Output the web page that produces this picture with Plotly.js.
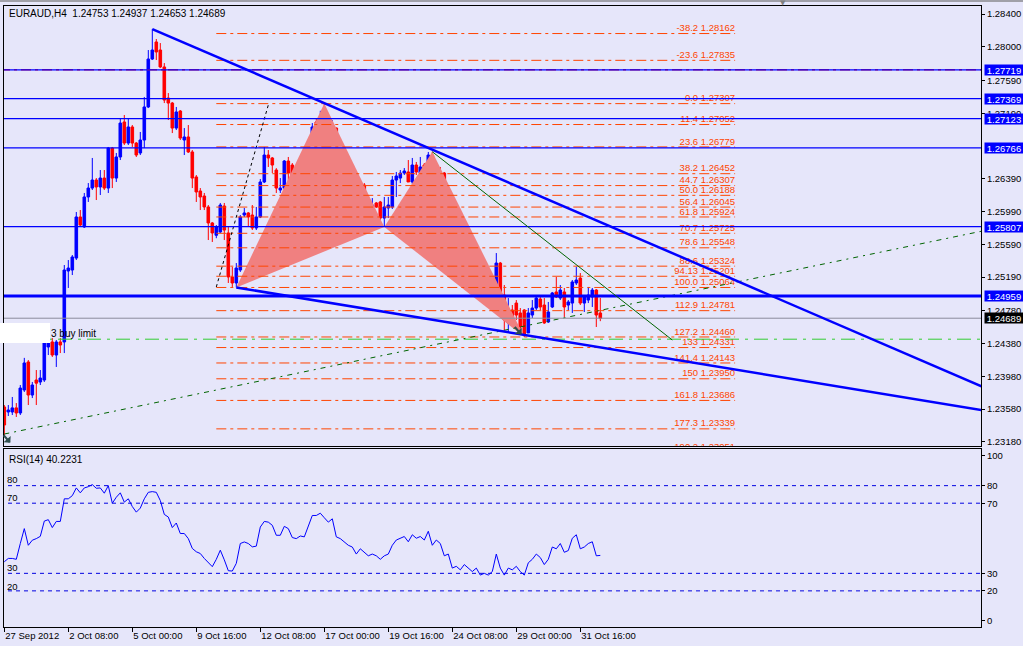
<!DOCTYPE html>
<html><head><meta charset="utf-8">
<script src="https://cdn.plot.ly/plotly-3.0.1.min.js"></script>
<style>html,body{margin:0;padding:0;background:#E6E6FA;overflow:hidden}#chart{width:1023px;height:646px}</style>
</head><body><div id="chart"></div>
<script>
// ---------------- data ----------------
const headerText = 'EURAUD,H4  1.24753 1.24937 1.24653 1.24689';
const rsiTitle = 'RSI(14) 40.2231';

const openP = [1.23606,1.23545,1.23545,1.23595,1.23533,1.23813,1.24155,1.23752,1.23935,1.23911,
1.23935,1.24338,1.24399,1.24240,1.24399,1.24399,1.25265,1.25277,1.25423,1.25924,
1.25802,1.26168,1.26277,1.26375,1.26290,1.26399,1.26277,1.26765,1.26399,1.26656,
1.27083,1.26826,1.27022,1.26826,1.26705,1.26863,1.27266,1.27851,1.28059,1.27961,
1.27754,1.27375,1.27314,1.27009,1.27217,1.26863,1.26900,1.26717,1.26412,1.26241,
1.26180,1.26046,1.25851,1.25701,1.25741,1.26058,1.25729,1.25192,1.25119,1.25277,
1.25948,1.25973,1.25948,1.25790,1.25924,1.26351,1.26680,1.26644,1.26497,1.26253,
1.26277,1.26607,1.26558,1.26290,1.26253,1.26290,1.26314,1.26656,1.27083,1.27070,
1.27083,1.27083,1.26900,1.27009,1.26680,1.26558,1.26412,1.26326,1.26277,1.26009,
1.26314,1.26131,1.26009,1.26095,1.26107,1.25911,1.26034,1.26046,1.26375,1.26399,
1.26460,1.26473,1.26351,1.26558,1.26460,1.26558,1.26460,1.26680,1.26338,1.26436,
1.26460,1.25985,1.26009,1.25338,1.25399,1.25192,1.25301,1.25253,1.25094,1.25192,
1.24911,1.25033,1.24935,1.25058,1.25362,1.24972,1.24631,1.24789,1.24874,1.24753,
1.24789,1.24509,1.24728,1.24813,1.24923,1.24850,1.24643,1.24826,1.25009,1.24935,
1.25009,1.24850,1.24874,1.25119,1.25179,1.24874,1.24911,1.24948,1.25033,1.24753];

const highP = [1.23630,1.23630,1.23728,1.23654,1.23874,1.24205,1.24179,1.23911,1.24057,1.24057,
1.24484,1.24447,1.24447,1.24423,1.24447,1.25338,1.25399,1.25460,1.25985,1.26009,
1.26217,1.26338,1.26644,1.26399,1.26497,1.26497,1.26778,1.26778,1.26705,1.27131,
1.27168,1.27131,1.27046,1.26839,1.26961,1.27388,1.27961,1.28217,1.28095,1.28046,
1.27802,1.27436,1.27327,1.27266,1.27229,1.27009,1.27046,1.26741,1.26436,1.26277,
1.26217,1.26070,1.25863,1.25826,1.26095,1.26095,1.25802,1.25314,1.25362,1.25948,
1.26034,1.25985,1.26070,1.26046,1.26387,1.26778,1.26741,1.26656,1.26520,1.26399,
1.26619,1.26656,1.26582,1.26399,1.26480,1.26399,1.26660,1.27070,1.27131,1.27220,
1.27307,1.27107,1.27107,1.27015,1.26705,1.26582,1.26473,1.26338,1.26290,1.26320,
1.26338,1.26168,1.26155,1.26107,1.26120,1.26168,1.26168,1.26424,1.26473,1.26497,
1.26521,1.26619,1.26644,1.26595,1.26656,1.26582,1.26717,1.26720,1.26534,1.26534,
1.26473,1.26070,1.26046,1.25436,1.25460,1.25460,1.25326,1.25362,1.25277,1.25216,
1.25240,1.25082,1.25082,1.25484,1.25375,1.25094,1.24935,1.24850,1.24911,1.24813,
1.24800,1.24813,1.24911,1.24948,1.24948,1.24935,1.24887,1.25009,1.25192,1.25094,
1.25058,1.24911,1.25155,1.25314,1.25240,1.24972,1.25070,1.25058,1.25045,1.24937];

const lowP = [1.23264,1.23496,1.23508,1.23484,1.23508,1.23789,1.23630,1.23715,1.23630,1.23874,
1.23911,1.24240,1.24216,1.24094,1.24264,1.24264,1.25058,1.25216,1.25399,1.25802,
1.25790,1.26107,1.26253,1.26131,1.26192,1.26253,1.26217,1.26277,1.26351,1.26619,
1.26802,1.26802,1.26778,1.26656,1.26680,1.26765,1.27253,1.27839,1.27839,1.27741,
1.27314,1.27107,1.26948,1.26985,1.26863,1.26680,1.26705,1.26277,1.26107,1.26009,
1.26009,1.25643,1.25619,1.25665,1.25729,1.25643,1.25119,1.25070,1.25064,1.25253,
1.25924,1.25802,1.25765,1.25765,1.25911,1.26338,1.26534,1.26460,1.26217,1.26217,
1.26155,1.26217,1.26168,1.26217,1.26229,1.26192,1.26290,1.26644,1.26948,1.27060,
1.26887,1.26887,1.26839,1.26473,1.26460,1.26277,1.26253,1.26168,1.25985,1.25985,
1.26095,1.26009,1.25911,1.26034,1.25887,1.25802,1.25911,1.26021,1.26168,1.26338,
1.26436,1.26351,1.26326,1.26436,1.26436,1.26412,1.26436,1.26290,1.26314,1.26314,
1.25924,1.25863,1.25301,1.25155,1.25179,1.25058,1.25155,1.25033,1.25058,1.24911,
1.24887,1.24911,1.24911,1.25033,1.24911,1.24545,1.24521,1.24643,1.24667,1.24545,
1.24460,1.24509,1.24692,1.24789,1.24789,1.24620,1.24631,1.24813,1.24935,1.24911,
1.24704,1.24789,1.24753,1.25094,1.24850,1.24765,1.24874,1.24826,1.24582,1.24653];

const closeP = [1.23386,1.23569,1.23595,1.23533,1.23837,1.24143,1.23752,1.23874,1.23897,1.23959,
1.24447,1.24387,1.24240,1.24399,1.24362,1.25277,1.25301,1.25436,1.25924,1.25826,
1.26168,1.26277,1.26375,1.26290,1.26399,1.26277,1.26765,1.26399,1.26656,1.27070,
1.26826,1.27022,1.26826,1.26680,1.26863,1.27266,1.27851,1.27961,1.27937,1.27754,
1.27351,1.27314,1.27009,1.27205,1.26887,1.26900,1.26717,1.26399,1.26229,1.26168,
1.26046,1.25851,1.25729,1.25802,1.26070,1.25765,1.25192,1.25119,1.25301,1.25924,
1.25973,1.25924,1.25790,1.25924,1.26351,1.26680,1.26644,1.26558,1.26277,1.26277,
1.26607,1.26460,1.26277,1.26253,1.26473,1.26338,1.26656,1.27022,1.27009,1.27119,
1.26985,1.26900,1.27009,1.26582,1.26521,1.26399,1.26314,1.26253,1.26009,1.26314,
1.26131,1.26034,1.26070,1.26046,1.25911,1.26046,1.26070,1.26375,1.26424,1.26460,
1.26485,1.26351,1.26558,1.26473,1.26534,1.26436,1.26680,1.26338,1.26473,1.26375,
1.25985,1.26034,1.25338,1.25399,1.25216,1.25314,1.25192,1.25070,1.25216,1.24935,
1.24997,1.24935,1.25070,1.25362,1.24948,1.24667,1.24789,1.24692,1.24728,1.24582,
1.24484,1.24753,1.24813,1.24935,1.24826,1.24631,1.24765,1.24997,1.24948,1.25033,
1.24826,1.24887,1.25131,1.25155,1.24874,1.24948,1.24972,1.25033,1.24728,1.24689];

const rsiValues = [36.6,38.5,38.5,38.0,47.0,55.5,46.0,48.9,49.8,51.1,
59.8,60.6,56.1,59.6,59.6,72.5,72.5,74.3,78.7,75.9,
78.7,79.4,80.6,78.5,78.7,75.7,80.0,70.0,73.4,75.9,
70.6,72.5,68.1,64.9,67.2,72.5,76.2,76.6,76.2,71.5,
63.6,62.1,56.1,58.7,52.7,52.7,49.8,44.2,42.3,41.3,
38.5,36.0,33.8,38.0,43.2,37.7,31.5,31.3,35.7,47.0,
47.9,47.0,45.1,45.5,56.4,59.6,59.2,57.4,51.7,51.7,
56.8,55.5,50.4,49.8,51.3,50.8,57.4,63.0,63.0,64.3,
61.7,59.2,61.1,50.8,49.8,48,46,45,41,44,
42,40,41,40,38,40,41,46,49,50,
51,48,52,50,51,49,54,46,49,47,
40,41,33,34,32,35,33,31,33,29,
30,29,31,41,33,29,33,32,34,31,
29,36,38,41,39,35,38,45,44,47,
42,43,50,52,44,45,47,48,40,40.2231];

const timeTickBars = [0,16,32,48,64,80,96,112,128,144];
const timeTickLabels = ['27 Sep 2012','2 Oct 08:00','5 Oct 00:00','9 Oct 16:00','12 Oct 08:00','17 Oct 00:00','19 Oct 16:00','24 Oct 08:00','29 Oct 00:00','31 Oct 16:00'];
const priceTicks = [1.28400,1.28000,1.27590,1.27190,1.26390,1.25990,1.25590,1.25190,1.24780,1.24380,1.23980,1.23580,1.23180];
const rsiLevels = [80,70,30,20];

const fibLevels = ['-38.2','-23.6','0.0','11.4','23.6','38.2','44.7','50.0','56.4','61.8','70.7','78.6','88.6','94.13','100.0','112.9','127.2','133','141.4','150','161.8','177.3','190.2'];
const fibPrices = [1.28162,1.27835,1.27307,1.27052,1.26779,1.26452,1.26307,1.26188,1.26045,1.25924,1.25725,1.25548,1.25324,1.25201,1.25064,1.24781,1.24460,1.24331,1.24143,1.23950,1.23686,1.23339,1.23051];
const fibBars = [53, 182.7];

const hLinePrices = [1.27719,1.27369,1.27123,1.26766,1.25807,1.24959];
const redLinePrice = 1.27719;
const buyLimitPrice = 1.24433;
const buyLimitText = '3 buy limit';

// Gartley XABCD points
const patternBars = [58, 80, 95, 107, 130];
const patternPrices = [1.25064, 1.27307, 1.25802, 1.26720, 1.24460];

// trendline anchors [bar, bar], [price, price]
const upperTLBars = [37, 107], upperTLPrices = [1.28217, 1.26745];
const lowerTLBars = [58, 130], lowerTLPrices = [1.25064, 1.24486];
const greenTLBars = [0, 140], greenTLPrices = [1.23276, 1.24694];
const thinTLBars = [107, 167], thinTLPrices = [1.26720, 1.24423];
const dotTLBars = [53, 66], dotTLPrices = [1.25070, 1.27290];

// trade arrows [bar, price]
const arrowBars = [1.5, 129.3], arrowPrices = [1.23170, 1.24490];

// ---------------- drawing ----------------
const FONT = 'Liberation Sans, Arial, sans-serif';
const FS = 9.5;
const BG = '#E6E6FA';
const X0 = -0.075, X1 = 244.175;
const bars = openP.map((_, i) => i);
const px2x = x => (x - 4) / 977;
const px2y = y => (627 - y) / 621;

function ray(bx, py, xEnd) {
  const s = (py[1] - py[0]) / (bx[1] - bx[0]);
  return {x: [bx[0], xEnd], y: [py[0], py[0] + s * (xEnd - bx[0])]};
}
function hline(p, color, width, dash, xa, ya, xs) {
  return {type: 'scatter', mode: 'lines', x: xs || [X0 - 1, X1 + 1], y: [p, p],
    line: {color: color, width: width, dash: dash || 'solid'}, hoverinfo: 'skip',
    xaxis: xa || 'x', yaxis: ya || 'y', showlegend: false};
}

const traces = [];
// pattern triangles
[[0,1,2],[2,3,4]].forEach(t => {
  traces.push({type: 'scatter', mode: 'lines', fill: 'toself', fillcolor: '#F08080',
    x: t.map(k => patternBars[k]), y: t.map(k => patternPrices[k]),
    line: {width: 0, color: '#F08080'}, hoverinfo: 'skip', showlegend: false});
});
// fib levels
const FIBDASH = '10px,4px,3px,4px';
fibPrices.forEach(p => traces.push(hline(p, '#FF4500', 1, FIBDASH, 'x', 'y', fibBars)));
traces.push(hline(redLinePrice, '#FF2020', 1.5, FIBDASH));
// fib labels as clipped text
traces.push({type: 'scatter', mode: 'text', x: fibPrices.map(() => fibBars[1]), y: fibPrices,
  text: fibPrices.map((p, i) => fibLevels[i] + ' ' + p.toFixed(5)), textposition: 'top left',
  textfont: {family: 'Liberation Sans, Arial, sans-serif', size: 9.5, color: '#FF4500'},
  cliponaxis: true, hoverinfo: 'skip', showlegend: false});
// buy limit line
traces.push(hline(buyLimitPrice, '#32CD32', 1, '14px,6px,3px,6px'));
// green dashed trendline
const g = ray(greenTLBars, greenTLPrices, X1 + 1);
traces.push({type: 'scatter', mode: 'lines', x: g.x, y: g.y, line: {color: '#006400', width: 1, dash: '5px,5px,2px,5px'}, hoverinfo: 'skip', showlegend: false});
// black dotted line
traces.push({type: 'scatter', mode: 'lines', x: dotTLBars, y: dotTLPrices, line: {color: '#000000', width: 1, dash: '3px,3px'}, hoverinfo: 'skip', showlegend: false});
// current price line
traces.push(hline(closeP[closeP.length - 1], '#8C8C9C', 1));
// candles
traces.push({type: 'candlestick', x: bars, open: openP, high: highP, low: lowP, close: closeP,
  increasing: {line: {color: '#0000FF', width: 1}, fillcolor: '#0000FF'},
  decreasing: {line: {color: '#FF0000', width: 1}, fillcolor: '#FF0000'},
  whiskerwidth: 0, hoverinfo: 'skip', showlegend: false, xaxis: 'x', yaxis: 'y'});
// horizontal blue lines
hLinePrices.forEach((p, i) => traces.push(hline(p, '#0000FF', i === hLinePrices.length - 1 ? 3 : 1.2)));
// trendlines
const u = ray(upperTLBars, upperTLPrices, X1 + 1);
traces.push({type: 'scatter', mode: 'lines', x: u.x, y: u.y, line: {color: '#0000FF', width: 2.5}, hoverinfo: 'skip', showlegend: false});
const l = ray(lowerTLBars, lowerTLPrices, X1 + 1);
traces.push({type: 'scatter', mode: 'lines', x: l.x, y: l.y, line: {color: '#0000FF', width: 2.5}, hoverinfo: 'skip', showlegend: false});
traces.push({type: 'scatter', mode: 'lines', x: thinTLBars, y: thinTLPrices, line: {color: '#006400', width: 1}, hoverinfo: 'skip', showlegend: false});

// RSI
rsiLevels.forEach(v => traces.push(hline(v, '#0000E0', 1, '4px,4px', 'x2', 'y2')));
traces.push({type: 'scatter', mode: 'lines', x: bars, y: rsiValues, line: {color: '#0000FF', width: 1},
  xaxis: 'x2', yaxis: 'y2', hoverinfo: 'skip', showlegend: false});

const annotations = [];
const txt = (text, x, y, opts) => Object.assign({text: text, x: x, y: y, xref: 'paper', yref: 'paper',
  showarrow: false, xanchor: 'left', yanchor: 'middle', font: {family: FONT, size: FS, color: '#000'}}, opts || {});
annotations.push(txt(headerText, px2x(7), px2y(14), {font: {family: FONT, size: 10, color: '#000'}}));
annotations.push(txt(rsiTitle, px2x(7), px2y(459), {font: {family: FONT, size: 10, color: '#000'}}));
[['80', 479], ['70', 497], ['30', 567], ['20', 586]].forEach(a => annotations.push(txt(a[0], px2x(5), px2y(a[1]))));
annotations.push(txt(buyLimitText, px2x(49), px2y(333), {font: {family: FONT, size: 10, color: '#000'}}));
annotations.push(txt('\u25BC', px2x(783), px2y(3), {xanchor: 'center', font: {family: 'DejaVu Sans', size: 7, color: '#808080'}}));
// trade arrows
arrowBars.forEach((b, i) => annotations.push({x: b, y: arrowPrices[i], xref: 'x', yref: 'y', text: '', showarrow: true,
  arrowhead: 1, arrowsize: 0.8, arrowwidth: 2, arrowcolor: '#2F4F4F', ax: -8, ay: -9}));
// price boxes on right axis
const box = (p, bg) => ({text: p.toFixed(5), x: 1, y: p, xref: 'paper', yref: 'y', xanchor: 'left', yanchor: 'middle',
  xshift: 3, showarrow: false, bgcolor: bg, borderpad: 0, width: 38, height: 10, align: 'center',
  font: {family: FONT, size: FS, color: '#FFFFFF'}});
hLinePrices.forEach(p => annotations.push(box(p, '#0000FF')));
annotations.push(box(closeP[closeP.length - 1], '#000000'));

const shapes = [
  {type: 'rect', xref: 'paper', yref: 'paper', x0: px2x(-2), x1: px2x(50), y0: px2y(343), y1: px2y(323), fillcolor: '#FFFFFF', line: {width: 0}, layer: 'above'},
  {type: 'rect', xref: 'paper', yref: 'paper', x0: px2x(-5), x1: px2x(1030), y0: px2y(2), y1: px2y(-2), fillcolor: '#A0A0A8', line: {width: 0}}
];

const axFont = {family: FONT, size: FS, color: '#000'};
const layout = {
  width: 1023, height: 646,
  margin: {l: 4, r: 42, t: 6, b: 19},
  paper_bgcolor: BG, plot_bgcolor: BG,
  showlegend: false,
  boxgap: 0.35, boxgroupgap: 0,
  xaxis: {domain: [0, 1], range: [X0, X1], anchor: 'y', showticklabels: false, ticks: '', showgrid: false, zeroline: false,
    showline: true, mirror: true, linecolor: '#000', linewidth: 1, rangeslider: {visible: false}, fixedrange: true},
  xaxis2: {domain: [0, 1], range: [X0, X1], anchor: 'y2', matches: 'x', showgrid: false, zeroline: false,
    showline: true, mirror: true, linecolor: '#000', linewidth: 1,
    tickmode: 'array', tickvals: timeTickBars, ticktext: timeTickLabels, ticks: 'outside', ticklen: 4, tickcolor: '#000',
    ticklabelposition: 'outside right', tickfont: axFont, rangeslider: {visible: false}},
  yaxis: {domain: [(627 - 446) / 621, 1], range: [1.23130, 1.28498], side: 'right', anchor: 'x', showgrid: false, zeroline: false,
    showline: true, mirror: true, linecolor: '#000', linewidth: 1,
    tickmode: 'array', tickvals: priceTicks, ticktext: priceTicks.map(v => v.toFixed(5)), ticks: 'outside', ticklen: 3, tickcolor: '#000',
    tickfont: axFont},
  yaxis2: {domain: [0, (627 - 449) / 621], range: [-0.6, 100.9], side: 'right', anchor: 'x2', showgrid: false, zeroline: false,
    showline: true, mirror: true, linecolor: '#000', linewidth: 1,
    tickmode: 'array', tickvals: [97, 80, 70, 30, 20, 3], ticktext: ['100', '80', '70', '30', '20', '0'], ticks: 'outside', ticklen: 3, tickcolor: '#000',
    tickfont: axFont},
  annotations: annotations,
  shapes: shapes
};
Plotly.newPlot('chart', traces, layout, {displayModeBar: false, staticPlot: true});
</script></body></html>
